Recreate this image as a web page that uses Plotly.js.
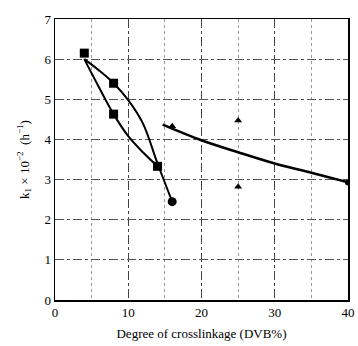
<!DOCTYPE html>
<html><head><meta charset="utf-8">
<script src="https://cdn.plot.ly/plotly-3.0.1.min.js"></script>
<style>body{margin:0;background:#fff}#c{width:358px;height:346px}</style>
</head><body><div id="c"></div>
<script>
// Square-marker series (DVB < 16%)
const sqX = [4, 8, 8, 14];
const sqY = [6.15, 5.4, 4.63, 3.33];
const circX = [16, 40];
const circY = [2.45, 2.93];
// Triangle-marker series
const triX = [16, 25, 25];
const triY = [4.33, 4.47, 2.82];
// Fitted curves
const upperX = [4, 6, 8, 10, 12, 14, 16];
const upperY = [6.0, 5.72, 5.4, 4.98, 4.4, 3.4, 2.45];
const lowerX = [4, 6, 8, 10, 12, 14];
const lowerY = [6.0, 5.3, 4.63, 4.08, 3.68, 3.33];
const rightX = [14.7, 20, 25, 30, 35, 40];
const rightY = [4.37, 3.98, 3.68, 3.4, 3.17, 2.93];
const xTicks = [0, 10, 20, 30, 40];
const yTicks = [0, 1, 2, 3, 4, 5, 6, 7];

const lineStyle = {color: '#000', width: 2, shape: 'spline', smoothing: 1};
const data = [
  {x: upperX, y: upperY, mode: 'lines', line: lineStyle, hoverinfo: 'skip'},
  {x: lowerX, y: lowerY, mode: 'lines', line: lineStyle, hoverinfo: 'skip'},
  {x: rightX, y: rightY, mode: 'lines', line: Object.assign({}, lineStyle, {width: 2.5}), hoverinfo: 'skip'},
  {x: sqX, y: sqY, mode: 'markers', opacity: 1, marker: {symbol: 'square', size: 9, color: '#000', opacity: 1, line: {width: 0}}},
  {x: circX, y: circY, mode: 'markers', opacity: 1, marker: {symbol: 'circle', size: [9, 6], color: '#000', opacity: 1, line: {width: 0}}},
  {x: triX, y: triY, mode: 'markers', opacity: 1, marker: {symbol: 'triangle-up', size: 7, color: '#000', opacity: 1, line: {width: 0}}}
];
const font = {family: '"Liberation Serif", "DejaVu Serif", serif', size: 13, color: '#000'};
const layout = {
  width: 358, height: 346,
  margin: {l: 55, r: 10, t: 19, b: 46},
  showlegend: false,
  paper_bgcolor: '#fff', plot_bgcolor: '#fff',
  font: font,
  xaxis: {
    range: [0, 40], tickvals: xTicks, ticktext: xTicks.map(String),
    showline: true, linecolor: '#000', linewidth: 1.5, mirror: true,
    showgrid: true, gridcolor: '#444', griddash: 'dashdot', gridwidth: 1,
    minor: {tickvals: [5, 15, 25, 35], showgrid: true, gridcolor: '#999', griddash: 'dot', gridwidth: 1.2, ticks: ''},
    ticks: '', zeroline: false, fixedrange: true,
    title: {text: 'Degree of crosslinkage (DVB%)', font: font, standoff: 10}
  },
  yaxis: {
    range: [0, 7], tickvals: yTicks, ticktext: yTicks.map(String),
    showline: true, linecolor: '#000', linewidth: 1.5, mirror: true,
    showgrid: true, gridcolor: '#555', griddash: 'dashdot', gridwidth: 1,
    ticks: '', zeroline: false, fixedrange: true,
    title: {text: 'k<sub>1</sub> × 10<sup>−2</sup>  (h<sup>−1</sup>)', font: font, standoff: 12}
  }
};
Plotly.newPlot('c', data, layout, {displayModeBar: false, staticPlot: true});
</script></body></html>
